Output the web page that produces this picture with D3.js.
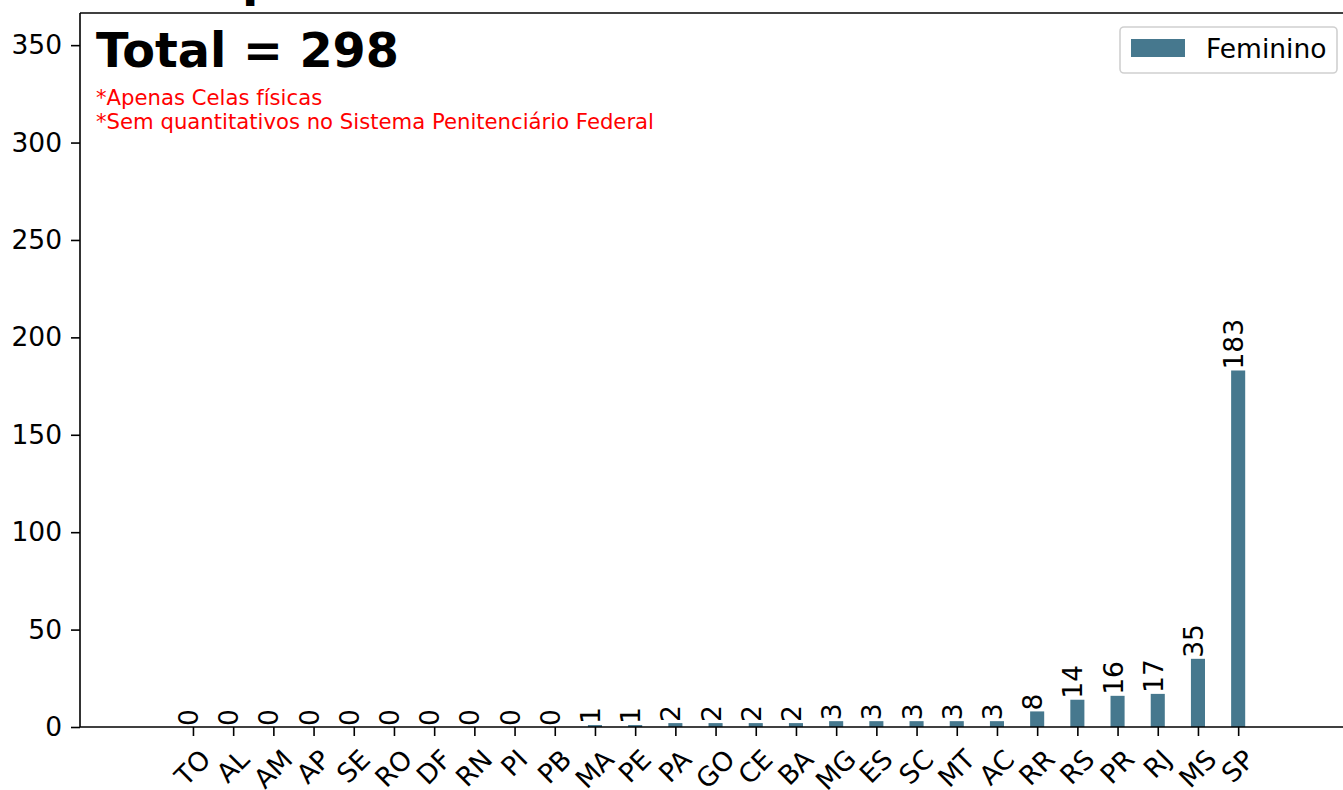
<!DOCTYPE html>
<html>
<head>
<meta charset="utf-8">
<script src="https://cdn.jsdelivr.net/npm/d3@7"></script>
<style>
html,body{margin:0;padding:0;background:#fff;}
svg{display:block;font-family:"DejaVu Sans",sans-serif;}
</style>
</head>
<body>
<svg id="chart" width="1343" height="790"></svg>
<script>
const categories = ["TO","AL","AM","AP","SE","RO","DF","RN","PI","PB","MA","PE","PA","GO","CE","BA","MG","ES","SC","MT","AC","RR","RS","PR","RJ","MS","SP"];
const feminino = [0,0,0,0,0,0,0,0,0,0,1,1,2,2,2,2,3,3,3,3,3,8,14,16,17,35,183];
const yTicks = [0,50,100,150,200,250,300,350];
const seriesName = "Feminino";
const totalLabel = "Total = 298";
const notes = ["*Apenas Celas físicas","*Sem quantitativos no Sistema Penitenciário Federal"];
const barColor = "#46788e";

(function(){
const svg = d3.select("#chart");
const FS = 26.5;
const mLeft = 80, mTop = 13, mBottom = 727;
const step = 40.2;
const x = d3.scaleLinear().domain([-2.81, 28.81]).range([mLeft, mLeft + 31.62 * step]);
const mRight = x(28.81);
const y = d3.scaleLinear().domain([0, 366.5]).range([mBottom, mTop]);
const barW = 0.35 * step;

// clipped title fragment
svg.append("text").attr("x", 242).attr("y", -4)
  .attr("font-size", 47.7).attr("font-weight", "bold").attr("fill", "#000").text("p");

// bars
svg.append("g").selectAll("rect").data(feminino).join("rect")
  .attr("x", (d,i) => x(i) - barW/2)
  .attr("width", barW)
  .attr("y", d => y(d))
  .attr("height", d => y(0) - y(d))
  .attr("fill", barColor);

// bar labels
svg.append("g").selectAll("text").data(feminino).join("text")
  .attr("transform", (d,i) => `translate(${x(i)+5},${y(d)-1}) rotate(-90)`)
  .attr("font-size", FS).attr("fill", "#000")
  .attr("text-anchor", "start")
  .text(d => d);

// y axis
const yAxis = svg.append("g").attr("transform", `translate(${mLeft},0)`)
  .call(d3.axisLeft(y).tickValues(yTicks).tickSize(9).tickPadding(9));
yAxis.select(".domain").remove();
yAxis.selectAll("line").attr("stroke", "#000").attr("stroke-width", 1.6);
yAxis.selectAll("text").attr("font-size", FS).attr("font-family", "DejaVu Sans").attr("fill", "#000");

// x axis
const xAxis = svg.append("g").attr("transform", `translate(0,${mBottom})`)
  .call(d3.axisBottom(x).tickValues(d3.range(categories.length)).tickFormat(i => categories[i]).tickSize(9).tickPadding(9));
xAxis.select(".domain").remove();
xAxis.selectAll("line").attr("stroke", "#000").attr("stroke-width", 1.6);
xAxis.selectAll("text").each(function(){
  const t = d3.select(this);
  t.attr("font-size", FS).attr("font-family", "DejaVu Sans").attr("fill", "#000").attr("dy", null);
  const w = this.getComputedTextLength();
  const th = FS * 1.0;
  const h = (w + th) * Math.SQRT1_2;
  const cy = 18 + h / 2;
  t.attr("y", 0).attr("text-anchor", "middle").attr("dominant-baseline", "central")
   .attr("transform", `translate(-1,${cy}) rotate(-45)`);
});

// spines
const sp = svg.append("g").attr("stroke", "#000").attr("stroke-width", 1.6);
sp.append("line").attr("x1", mLeft).attr("x2", mLeft).attr("y1", mTop).attr("y2", mBottom);
sp.append("line").attr("x1", mLeft).attr("x2", mRight).attr("y1", mBottom).attr("y2", mBottom);
sp.append("line").attr("x1", mLeft).attr("x2", mRight).attr("y1", mTop).attr("y2", mTop);
sp.append("line").attr("x1", mRight).attr("x2", mRight).attr("y1", mTop).attr("y2", mBottom);

// total text
svg.append("text").attr("x", 96).attr("y", 67)
  .attr("font-size", 47.7).attr("font-weight", "bold").attr("fill", "#000").text(totalLabel);

// notes
svg.append("g").selectAll("text").data(notes).join("text")
  .attr("x", 96).attr("y", (d,i) => 105 + i*23.5)
  .attr("font-size", 21.2).attr("fill", "#ff0000").text(d => d);

// legend
const lg = svg.append("g");
lg.append("rect").attr("x", 1120).attr("y", 27).attr("width", 217).attr("height", 46)
  .attr("rx", 4).attr("fill", "#fff").attr("fill-opacity", 0.8).attr("stroke", "#d0d0d0").attr("stroke-width", 1.6);
lg.append("rect").attr("x", 1131).attr("y", 39).attr("width", 54).attr("height", 18).attr("fill", barColor);
lg.append("text").attr("x", 1206).attr("y", 58).attr("font-size", FS).attr("fill", "#000").text(seriesName);
})();
</script>
</body>
</html>
